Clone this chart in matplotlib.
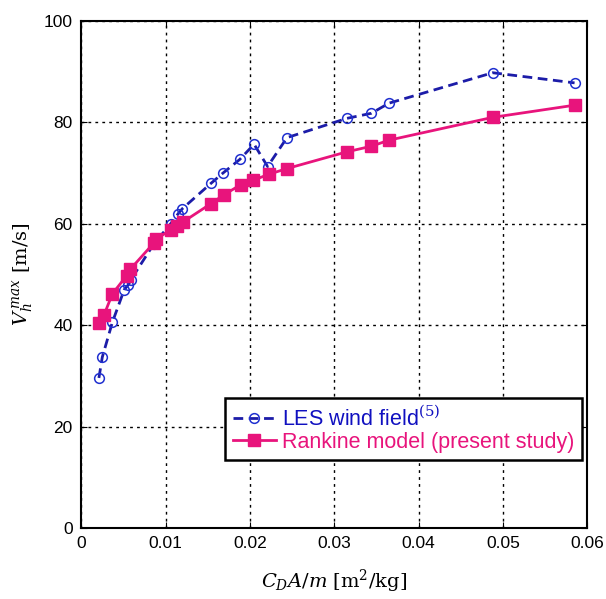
import matplotlib
matplotlib.use('Agg')
import matplotlib.pyplot as plt

plt.rcParams['mathtext.fontset'] = 'dejavuserif'
plt.rcParams['font.family'] = ['Liberation Sans', 'DejaVu Sans']

# LES wind field (5)
les_x = [0.0021, 0.0025, 0.0037, 0.0051, 0.0056, 0.0059, 0.0086, 0.0106, 0.0115, 0.0120,
         0.0154, 0.0168, 0.0188, 0.0205, 0.0221, 0.0244, 0.0315, 0.0344, 0.0365, 0.0488, 0.0585]
les_v = [29.6, 33.7, 40.6, 47.0, 48.0, 49.0, 56.0, 60.0, 62.0, 63.0,
         68.0, 70.0, 72.7, 75.7, 71.3, 77.0, 80.8, 81.8, 83.8, 89.8, 87.8]

# Rankine model (present study)
rk_x = [0.0021, 0.0027, 0.0037, 0.0054, 0.0058, 0.0086, 0.0089, 0.0106, 0.0114, 0.0121,
        0.0154, 0.0169, 0.0189, 0.0204, 0.0223, 0.0244, 0.0315, 0.0344, 0.0365, 0.0488, 0.0585]
rk_v = [40.4, 42.0, 46.2, 49.8, 51.0, 56.2, 57.0, 58.8, 59.5, 60.4,
        64.0, 65.7, 67.7, 68.6, 69.8, 70.9, 74.2, 75.3, 76.5, 81.0, 83.4]

fig = plt.figure(figsize=(6.06, 5.99), dpi=100)
ax = fig.add_axes([0.134, 0.1185, 0.835, 0.8464])

blue = '#1c1ca8'
pink = '#e8147c'

ax.plot(les_x, les_v, linestyle=(0, (3.5, 2)), color=blue, linewidth=2,
        marker='o', markersize=7, markerfacecolor='none', markeredgecolor='#2030d0',
        markeredgewidth=1.1, label='LES wind field$^{(5)}$', zorder=3)
ax.plot(rk_x, rk_v, linestyle='-', color=pink, linewidth=2,
        marker='s', markersize=8, markerfacecolor=pink, markeredgecolor=pink,
        label='Rankine model (present study)', zorder=4)

ax.set_xlim(0, 0.06)
ax.set_ylim(0, 100)
ax.set_xticks([0, 0.01, 0.02, 0.03, 0.04, 0.05, 0.06])
ax.set_xticklabels(['0', '0.01', '0.02', '0.03', '0.04', '0.05', '0.06'])
ax.set_yticks([0, 20, 40, 60, 80, 100])
ax.tick_params(direction='in', length=4, labelsize=12.5, top=True, right=True, pad=6)
for s in ax.spines.values():
    s.set_linewidth(1.5)
ax.grid(True, color='black', linestyle=(0, (2, 3)), linewidth=1.0)

ax.set_xlabel(r'$C_D A/m$ [m$^2$/kg]', family='serif', fontsize=14, labelpad=12)
ax.set_ylabel(r'$V_h^{\,max}$ [m/s]', family='serif', fontsize=14, labelpad=6)

leg = ax.legend(loc='lower right', bbox_to_anchor=(0.99, 0.134), borderaxespad=0,
                fontsize=15.5, frameon=True, fancybox=False, edgecolor='black',
                framealpha=1, handlelength=2.0, handletextpad=0.3, borderpad=0.35,
                labelspacing=0.05)
leg.get_frame().set_linewidth(1.8)
leg.get_texts()[0].set_color('#1010c0')
leg.get_texts()[1].set_color(pink)

plt.savefig('out.png', dpi=100)
